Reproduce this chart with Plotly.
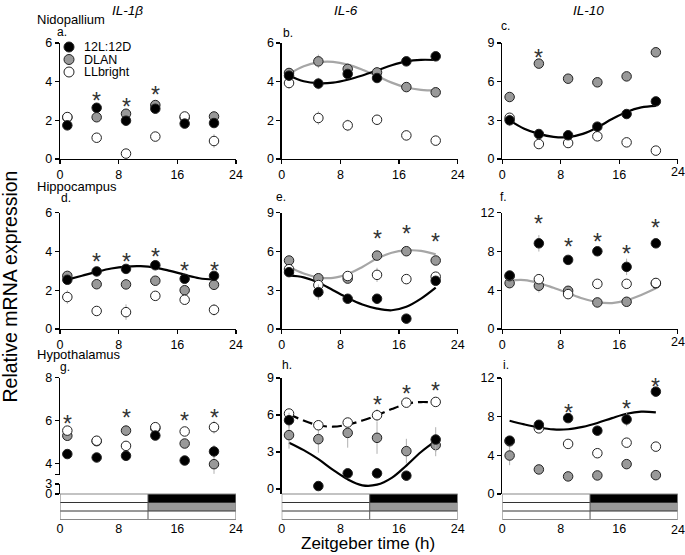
import plotly.graph_objects as go

W, H = 685, 555
def px(x): return x / W
def py(y): return 1 - y / H

FONT = "Liberation Sans, Arial, Helvetica, sans-serif"

# ---------------- data ----------------
T = [1, 5, 9, 13, 17, 21]
CT = [1, 3, 5, 7, 9, 11, 13, 15, 17, 19, 21]
XTICKS = [0, 8, 16, 24]
GENES = ["IL-1\u03b2", "IL-6", "IL-10"]
REGIONS = ["Nidopallium", "Hippocampus", "Hypothalamus"]
GROUPS = ["12L:12D", "DLAN", "LLbright"]

# a. Nidopallium IL-1b
a_ld = [1.74, 2.65, 1.98, 2.60, 1.83, 1.86]
a_dlan = [2.15, 2.16, 2.34, 2.79, 2.15, 2.20]
a_ll = [2.17, 1.10, 0.28, 1.16, 2.20, 0.93]
a_ld_err = [0.25, 0.12, 0.10, 0.10, 0.10, 0.10]
a_dlan_err = [0.10, 0.10, 0.12, 0.10, 0.10, 0.10]
a_ll_err = [0.10, 0.10, 0.10, 0.10, 0.10, 0.35]
a_stars = [5, 9, 13]
a_star_y = [3.31, 2.97, 3.57]

# b. Nidopallium IL-6
b_ld = [4.31, 3.90, 4.40, 4.19, 5.05, 5.31]
b_dlan = [4.45, 5.05, 4.66, 4.48, 3.72, 3.45]
b_ll = [3.93, 2.12, 1.74, 2.03, 1.22, 0.95]
b_ld_err = [0.15, 0.30, 0.15, 0.10, 0.10, 0.10]
b_dlan_err = [0.15, 0.35, 0.20, 0.10, 0.10, 0.10]
b_ll_err = [0.30, 0.35, 0.30, 0.10, 0.25, 0.25]
b_fit_ld = [4.32, 4.02, 3.92, 3.95, 4.10, 4.32, 4.58, 4.85, 5.05, 5.13, 5.12]
b_fit_dlan = [4.40, 4.80, 5.00, 5.02, 4.88, 4.62, 4.30, 3.95, 3.70, 3.58, 3.55]
b_stars = []
b_star_y = []

# c. Nidopallium IL-10
c_ld = [3.00, 1.94, 1.84, 2.51, 3.49, 4.47]
c_dlan = [4.81, 7.40, 6.23, 5.95, 6.41, 8.28]
c_ll = [3.20, 1.16, 1.24, 1.76, 1.29, 0.65]
c_ld_err = [0.45, 0.20, 0.20, 0.15, 0.15, 0.15]
c_dlan_err = [0.20, 0.30, 0.20, 0.20, 0.20, 0.20]
c_ll_err = [0.30, 0.15, 0.15, 0.15, 0.15, 0.15]
c_fit_ld = [3.00, 2.35, 1.95, 1.72, 1.70, 1.95, 2.45, 3.10, 3.65, 4.00, 4.12]
c_stars = [5, 21]
c_star_y = [8.25, 9.02]

# d. Hippocampus IL-1b
d_ld = [2.54, 2.97, 3.10, 3.29, 2.59, 2.74]
d_dlan = [2.74, 2.31, 2.30, 2.49, 2.00, 2.28]
d_ll = [1.65, 0.93, 0.87, 1.71, 1.51, 0.99]
d_ld_err = [0.10, 0.10, 0.10, 0.10, 0.10, 0.10]
d_dlan_err = [0.10, 0.10, 0.10, 0.10, 0.10, 0.10]
d_ll_err = [0.35, 0.15, 0.40, 0.10, 0.15, 0.30]
d_fit_ld = [2.55, 2.75, 2.95, 3.12, 3.22, 3.24, 3.17, 3.00, 2.80, 2.62, 2.55]
d_stars = [5, 9, 13, 17, 21]
d_star_y = [3.73, 3.73, 3.99, 3.30, 3.30]

# e. Hippocampus IL-6
e_ld = [4.40, 2.85, 2.34, 2.34, 0.80, 3.73]
e_dlan = [5.30, 3.93, 3.90, 5.68, 6.02, 5.30]
e_ll = [4.63, 3.40, 4.10, 4.19, 3.86, 4.05]
e_ld_err = [0.20, 0.60, 0.35, 0.15, 0.15, 0.20]
e_dlan_err = [0.20, 0.20, 0.20, 0.20, 0.20, 0.20]
e_ll_err = [0.20, 0.30, 0.20, 0.55, 0.20, 0.20]
e_fit_ld = [4.15, 4.00, 3.60, 3.00, 2.40, 1.90, 1.58, 1.45, 1.72, 2.35, 3.20]
e_fit_dlan = [4.80, 4.30, 4.00, 3.95, 4.25, 4.80, 5.45, 5.90, 6.08, 6.05, 5.78]
e_stars = [13, 17, 21]
e_star_y = [7.40, 7.79, 7.19]

# f. Hippocampus IL-10
f_ld = [5.52, 8.84, 7.13, 8.02, 6.41, 8.84]
f_dlan = [4.73, 4.46, 3.94, 2.74, 2.81, 4.70]
f_ll = [5.45, 5.14, 3.60, 4.66, 4.66, 4.75]
f_ld_err = [0.30, 0.85, 0.30, 0.30, 0.85, 0.30]
f_dlan_err = [0.30, 0.70, 0.30, 0.50, 0.30, 0.30]
f_ll_err = [0.30, 0.30, 0.30, 0.30, 0.30, 0.30]
f_fit_dlan = [5.00, 5.05, 4.75, 4.25, 3.70, 3.15, 2.78, 2.68, 2.95, 3.50, 4.20]
f_stars = [5, 9, 13, 17, 21]
f_star_y = [11.42, 9.01, 9.53, 8.33, 10.97]

# g. Hypothalamus IL-1b
g_ld = [4.45, 4.29, 4.37, 5.31, 4.15, 4.57]
g_dlan = [5.30, 5.05, 5.54, 5.65, 4.94, 3.98]
g_ll = [5.54, 5.07, 4.83, 5.70, 5.50, 5.70]
g_ld_err = [0.10, 0.10, 0.10, 0.10, 0.10, 0.30]
g_dlan_err = [0.10, 0.10, 0.25, 0.10, 0.15, 0.45]
g_ll_err = [0.10, 0.10, 0.15, 0.10, 0.10, 0.30]
g_stars = [1, 9, 17, 21]
g_star_y = [6.12, 6.38, 6.22, 6.38]

# h. Hypothalamus IL-6
h_ld = [5.58, 0.24, 1.27, 1.27, 1.08, 4.01]
h_dlan = [4.37, 4.04, 4.55, 4.15, 3.07, 3.56]
h_ll = [6.12, 5.17, 5.39, 5.98, 7.00, 7.06]
h_ld_err = [0.60, 0.20, 0.20, 0.20, 0.20, 1.00]
h_dlan_err = [1.10, 1.10, 1.20, 1.30, 1.00, 0.90]
h_ll_err = [0.30, 0.20, 0.20, 0.50, 0.20, 0.20]
h_fit_ld = [3.75, 3.15, 2.42, 1.55, 0.78, 0.30, 0.35, 0.90, 1.90, 3.00, 3.90]
h_fit_ll = [6.06, 5.55, 5.17, 5.05, 5.22, 5.55, 5.98, 6.48, 6.90, 7.05, 7.00]
h_stars = [13, 17, 21]
h_star_y = [7.25, 8.14, 8.41]

# i. Hypothalamus IL-10
i_ld = [5.52, 7.16, 7.85, 6.55, 7.71, 10.59]
i_dlan = [3.98, 2.54, 1.82, 1.92, 3.09, 1.95]
i_ll = [5.45, 6.79, 5.18, 4.22, 5.31, 4.90]
i_ld_err = [0.30, 0.30, 0.30, 0.30, 0.70, 0.30]
i_dlan_err = [1.00, 0.30, 0.30, 0.30, 0.40, 0.30]
i_ll_err = [0.30, 0.30, 0.30, 0.30, 0.30, 0.30]
i_fit_ld = [7.58, 7.20, 6.88, 6.68, 6.70, 6.95, 7.35, 7.85, 8.30, 8.52, 8.45]
i_stars = [9, 17, 21]
i_star_y = [8.91, 9.36, 11.59]

# ---------------- styles ----------------
BLACK = "#000000"
GRAY = "#999999"
WHITE = "#ffffff"
EDGE = "#222222"
FITGRAY = "#a6a6a6"
ERRC = "#b0b0b0"

panels = [
    dict(letter="a.", ld=a_ld, dlan=a_dlan, ll=a_ll, e=(a_ld_err, a_dlan_err, a_ll_err),
         fits=[], stars=a_stars, sy=a_star_y, yr=[0, 6], yt=[0, 2, 4, 6]),
    dict(letter="b.", ld=b_ld, dlan=b_dlan, ll=b_ll, e=(b_ld_err, b_dlan_err, b_ll_err),
         fits=[(b_fit_dlan, FITGRAY, "solid"), (b_fit_ld, BLACK, "solid")],
         stars=b_stars, sy=b_star_y, yr=[0, 6], yt=[0, 2, 4, 6]),
    dict(letter="c.", ld=c_ld, dlan=c_dlan, ll=c_ll, e=(c_ld_err, c_dlan_err, c_ll_err),
         fits=[(c_fit_ld, BLACK, "solid")], stars=c_stars, sy=c_star_y, yr=[0, 9], yt=[0, 3, 6, 9]),
    dict(letter="d.", ld=d_ld, dlan=d_dlan, ll=d_ll, e=(d_ld_err, d_dlan_err, d_ll_err),
         fits=[(d_fit_ld, BLACK, "solid")], stars=d_stars, sy=d_star_y, yr=[0, 6], yt=[0, 2, 4, 6]),
    dict(letter="e.", ld=e_ld, dlan=e_dlan, ll=e_ll, e=(e_ld_err, e_dlan_err, e_ll_err),
         fits=[(e_fit_dlan, FITGRAY, "solid"), (e_fit_ld, BLACK, "solid")],
         stars=e_stars, sy=e_star_y, yr=[0, 9], yt=[0, 3, 6, 9]),
    dict(letter="f.", ld=f_ld, dlan=f_dlan, ll=f_ll, e=(f_ld_err, f_dlan_err, f_ll_err),
         fits=[(f_fit_dlan, FITGRAY, "solid")], stars=f_stars, sy=f_star_y, yr=[0, 12], yt=[0, 4, 8, 12]),
    dict(letter="g.", ld=g_ld, dlan=g_dlan, ll=g_ll, e=(g_ld_err, g_dlan_err, g_ll_err),
         fits=[], stars=g_stars, sy=g_star_y, yr=[3.5, 8], yt=[3.5, 4, 6, 8]),
    dict(letter="h.", ld=h_ld, dlan=h_dlan, ll=h_ll, e=(h_ld_err, h_dlan_err, h_ll_err),
         fits=[(h_fit_ld, BLACK, "solid"), (h_fit_ll, BLACK, "10px,5px")],
         stars=h_stars, sy=h_star_y, yr=[-0.405, 9], yt=[0, 3, 6, 9]),
    dict(letter="i.", ld=i_ld, dlan=i_dlan, ll=i_ll, e=(i_ld_err, i_dlan_err, i_ll_err),
         fits=[(i_fit_ld, BLACK, "solid")], stars=i_stars, sy=i_star_y, yr=[0, 12], yt=[0, 4, 8, 12]),
]

# ---------------- layout geometry (pixels) ----------------
COL_X = [60, 281.7, 502.3]
COL_W = [176, 176, 175.5]
ROW_Y = [(43, 159), (212.7, 329), (378, 494)]
G_UPPER = (377.7, 474.5)
G_LOWER = (484, 494)
BAR_TOP, BAR_BOT = 494, 519.5
XLABEL_Y = [172, 342, 529.5]   # centre of x tick labels per row (pixels)
LETTER_POS = [(62, 32), (288, 33), (505, 26), (66, 198), (281, 197), (503, 197),
              (65, 367), (287, 365), (506, 365)]

fig = go.Figure()
layout = dict(width=W, height=H, margin=dict(l=0, r=0, t=0, b=0, pad=0, autoexpand=False),
              paper_bgcolor="white", plot_bgcolor="white", showlegend=False,
              template="none", hovermode=False,
              font=dict(family=FONT, color="black", size=12.5))
annotations = []
shapes = []

def label(x, y, text, size=12.5, xanchor="center", **kw):
    d = dict(x=px(x), y=py(y), xref="paper", yref="paper", text=text, showarrow=False,
             xanchor=xanchor, yanchor="middle", font=dict(size=size, family=FONT, color="black", **kw))
    annotations.append(d)
    return d

axis_common = dict(showline=True, linecolor="black", linewidth=1.3, ticks="outside",
                   ticklen=4, tickwidth=1.2, tickcolor="black", showgrid=False,
                   zeroline=False, automargin=False, ticklabeloverflow="allow",
                   tickfont=dict(size=12.5, family=FONT, color="black"))

for k, p in enumerate(panels):
    n = k + 1
    r, c = divmod(k, 3)
    xa = f"x{n}"
    ya = f"y{n}"
    x0 = COL_X[c]
    xdom = [px(x0), px(x0 + COL_W[c])]
    if r == 2 and c == 0:
        ydom = [py(G_UPPER[1]), py(G_UPPER[0])]
    else:
        ydom = [py(ROW_Y[r][1]), py(ROW_Y[r][0])]

    xcfg = dict(axis_common, domain=xdom, range=[0, 24], tickvals=XTICKS)
    if c == 2:
        # last label of the right-hand column sits at the page edge: draw it as text
        xcfg["ticktext"] = [str(v) for v in XTICKS[:-1]] + [""]
        label(x0 + COL_W[c], XLABEL_Y[r], str(XTICKS[-1]), size=12.5)
    if r == 2:
        xcfg.update(anchor="free", position=py(BAR_BOT), showline=False, ticks="")
    else:
        xcfg.update(anchor=ya)
    ycfg = dict(axis_common, domain=ydom, range=p["yr"], tickvals=p["yt"], anchor=xa)
    if r == 2 and c == 0:
        ycfg["ticktext"] = [""] + [str(v) for v in p["yt"][1:]]
    layout[f"xaxis{n}"] = xcfg
    layout[f"yaxis{n}"] = ycfg

    # fitted curves
    for vals, col, dash in p["fits"]:
        fig.add_trace(go.Scatter(x=CT, y=vals, mode="lines", xaxis=xa, yaxis=ya,
                                 line=dict(color=col, width=2.2, dash=dash, shape="spline", smoothing=1.0),
                                 hoverinfo="skip", cliponaxis=False))
    # points: DLAN, LLbright, 12L:12D (top)
    for vals, err, fill in [(p["dlan"], p["e"][1], GRAY), (p["ll"], p["e"][2], WHITE), (p["ld"], p["e"][0], BLACK)]:
        fig.add_trace(go.Scatter(x=T, y=vals, mode="markers", xaxis=xa, yaxis=ya,
                                 marker=dict(size=9.5, color=fill, line=dict(color=EDGE, width=1)),
                                 error_y=dict(type="data", array=err, color=ERRC, thickness=1, width=0),
                                 cliponaxis=False))
    # stars
    for t, sy in zip(p["stars"], p["sy"]):
        annotations.append(dict(x=t, y=sy, xref=xa, yref=ya, text="*", showarrow=False,
                                xanchor="center", yanchor="middle",
                                font=dict(size=23, family=FONT, color="#333"), yshift=-5.5))
    # panel letter
    lx, ly = LETTER_POS[k]
    label(lx, ly, p["letter"], size=12)

# broken-axis lower segment for panel g
layout["yaxis10"] = dict(axis_common, domain=[py(G_LOWER[1]), py(G_LOWER[0])], range=[0, 3],
                         tickvals=[0, 3], anchor="x7")
fig.add_trace(go.Scatter(x=[None], y=[None], xaxis="x7", yaxis="y10", hoverinfo="skip"))

# light/dark bars under bottom row
rows_px = [BAR_TOP, 502.5, 511, BAR_BOT]
for n in (7, 8, 9):
    xr = f"x{n}"
    shapes.append(dict(type="rect", xref=xr, yref="paper", x0=12, x1=24, y0=py(rows_px[1]), y1=py(rows_px[0]),
                       fillcolor="black", line=dict(width=0), layer="above"))
    shapes.append(dict(type="rect", xref=xr, yref="paper", x0=12, x1=24, y0=py(rows_px[2]), y1=py(rows_px[1]),
                       fillcolor=GRAY, line=dict(width=0), layer="above"))
    for yy in rows_px[1:3]:
        shapes.append(dict(type="line", xref=xr, yref="paper", x0=0, x1=24, y0=py(yy), y1=py(yy),
                           line=dict(color="#333", width=1)))
    shapes.append(dict(type="line", xref=xr, yref="paper", x0=12, x1=12, y0=py(BAR_BOT), y1=py(BAR_TOP),
                       line=dict(color="#555", width=1)))
    shapes.append(dict(type="rect", xref=xr, yref="paper", x0=0, x1=24, y0=py(BAR_BOT), y1=py(BAR_TOP),
                       fillcolor="rgba(0,0,0,0)", line=dict(color="#888", width=1.2)))

# manual legend in panel a
LEG_Y = [47, 59.5, 72]
for name, fill, ly in zip(GROUPS, [BLACK, GRAY, WHITE], LEG_Y):
    shapes.append(dict(type="circle", xref="paper", yref="paper",
                       x0=px(69 - 5), x1=px(69 + 5), y0=py(ly + 5), y1=py(ly - 5),
                       fillcolor=fill, line=dict(color=EDGE, width=1)))
    label(81.5, ly, name, size=12.5, xanchor="left")

# column titles
for txt, cx in zip(GENES, [128, 345.7, 588.6]):
    label(cx, 10, txt, size=13.5, style="italic")
# row labels
for txt, ry in zip(REGIONS, [20, 186, 354]):
    label(35, ry, txt, size=13, xanchor="left")
# axis titles
a = label(10, 286.5, "Relative mRNA expression", size=19.5)
a["textangle"] = -90
label(368, 543, "Zeitgeber time (h)", size=17)

layout["annotations"] = annotations
layout["shapes"] = shapes
fig.update_layout(**layout)
fig.write_html("out.html", config={"displayModeBar": False, "staticPlot": True},
               post_script="document.body.style.margin='0';document.body.style.padding='0';")
